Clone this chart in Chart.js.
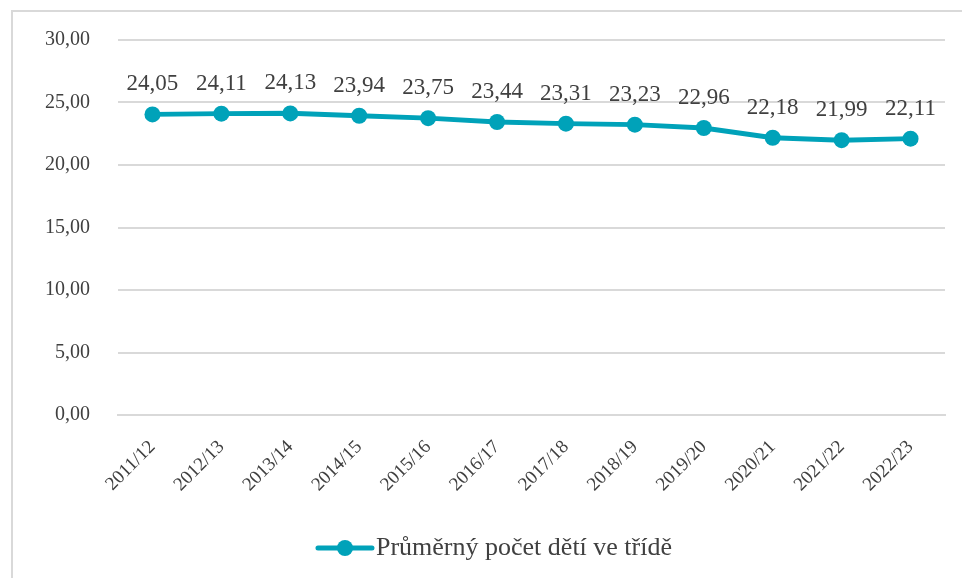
<!DOCTYPE html>
<html>
<head>
<meta charset="utf-8">
<script src="https://cdn.jsdelivr.net/npm/chart.js@4"></script>
<style>
    body { margin: 0; background: #fff; overflow: hidden; }
    #frame {
        position: absolute; left: 11px; top: 10px; width: 1000px; height: 600px;
        border-left: 2px solid #d9d9d9; border-top: 2px solid #d9d9d9;
    }
    #wrap { position: absolute; left: 0; top: 0; width: 962px; height: 578px; }
</style>
</head>
<body>
<div id="frame"></div>
<div id="wrap"><canvas id="chart"></canvas></div>
<script>
// Chart data
const years = ['2011/12', '2012/13', '2013/14', '2014/15', '2015/16', '2016/17',
               '2017/18', '2018/19', '2019/20', '2020/21', '2021/22', '2022/23'];
const avgKids = [24.05, 24.11, 24.13, 23.94, 23.75, 23.44, 23.31, 23.23, 22.96, 22.18, 21.99, 22.11];
const seriesName = 'Průměrný počet dětí ve třídě';

const lineColor = '#00a2b9';
const textColor = '#404040';
const fontFamily = '"Liberation Serif", "DejaVu Serif", serif';

function fmt(v, digits) {
    return v.toFixed(digits).replace('.', ',');
}

// Draw value labels above the points and a legend at the bottom
const labelPlugin = {
    id: 'valueLabels',
    afterDatasetsDraw(chart) {
        const ctx = chart.ctx;
        const meta = chart.getDatasetMeta(0);
        ctx.save();
        ctx.font = '23px ' + fontFamily;
        ctx.fillStyle = textColor;
        ctx.textAlign = 'center';
        ctx.textBaseline = 'middle';
        meta.data.forEach((pt, i) => {
            ctx.fillText(fmt(avgKids[i], 2), pt.x, pt.y - 30);
        });

        // legend
        const label = chart.data.datasets[0].label;
        ctx.font = '26px ' + fontFamily;
        const tw = ctx.measureText(label).width;
        const total = 54 + 4 + tw;
        const x0 = (chart.width - total) / 2 + 14;
        const y0 = 548;
        ctx.strokeStyle = lineColor;
        ctx.lineWidth = 5;
        ctx.lineCap = 'round';
        ctx.beginPath();
        ctx.moveTo(x0, y0);
        ctx.lineTo(x0 + 54, y0);
        ctx.stroke();
        ctx.fillStyle = lineColor;
        ctx.beginPath();
        ctx.arc(x0 + 27, y0, 8, 0, Math.PI * 2);
        ctx.fill();
        ctx.fillStyle = textColor;
        ctx.textAlign = 'left';
        ctx.fillText(label, x0 + 58, y0);
        ctx.restore();
    }
};

const ctx = document.getElementById('chart').getContext('2d');
new Chart(ctx, {
    type: 'line',
    data: {
        labels: years,
        datasets: [{
            label: seriesName,
            data: avgKids,
            borderColor: lineColor,
            backgroundColor: lineColor,
            borderWidth: 5,
            pointRadius: 8,
            pointHoverRadius: 8,
            pointBackgroundColor: lineColor,
            pointBorderWidth: 0,
            tension: 0
        }]
    },
    options: {
        responsive: true,
        maintainAspectRatio: false,
        animation: false,
        layout: { padding: { top: 40, right: 17, bottom: 0, left: 0 } },
        plugins: {
            legend: { display: false },
            tooltip: { enabled: false }
        },
        scales: {
            x: {
                offset: true,
                grid: { display: false },
                border: { color: '#d9d9d9', width: 2 },
                ticks: {
                    color: textColor,
                    font: { family: fontFamily, size: 19 },
                    minRotation: 45,
                    maxRotation: 45,
                    padding: 13
                },
                afterFit(scale) { scale.height = 163; }
            },
            y: {
                min: 0,
                max: 30,
                grid: { color: '#d9d9d9', lineWidth: 2, drawTicks: false },
                border: { display: false },
                ticks: {
                    stepSize: 5,
                    color: textColor,
                    font: { family: fontFamily, size: 20 },
                    padding: 28,
                    callback: (v) => fmt(v, 2)
                },
                afterFit(scale) { scale.width = 118; }
            }
        }
    },
    plugins: [labelPlugin]
});
</script>
</body>
</html>
